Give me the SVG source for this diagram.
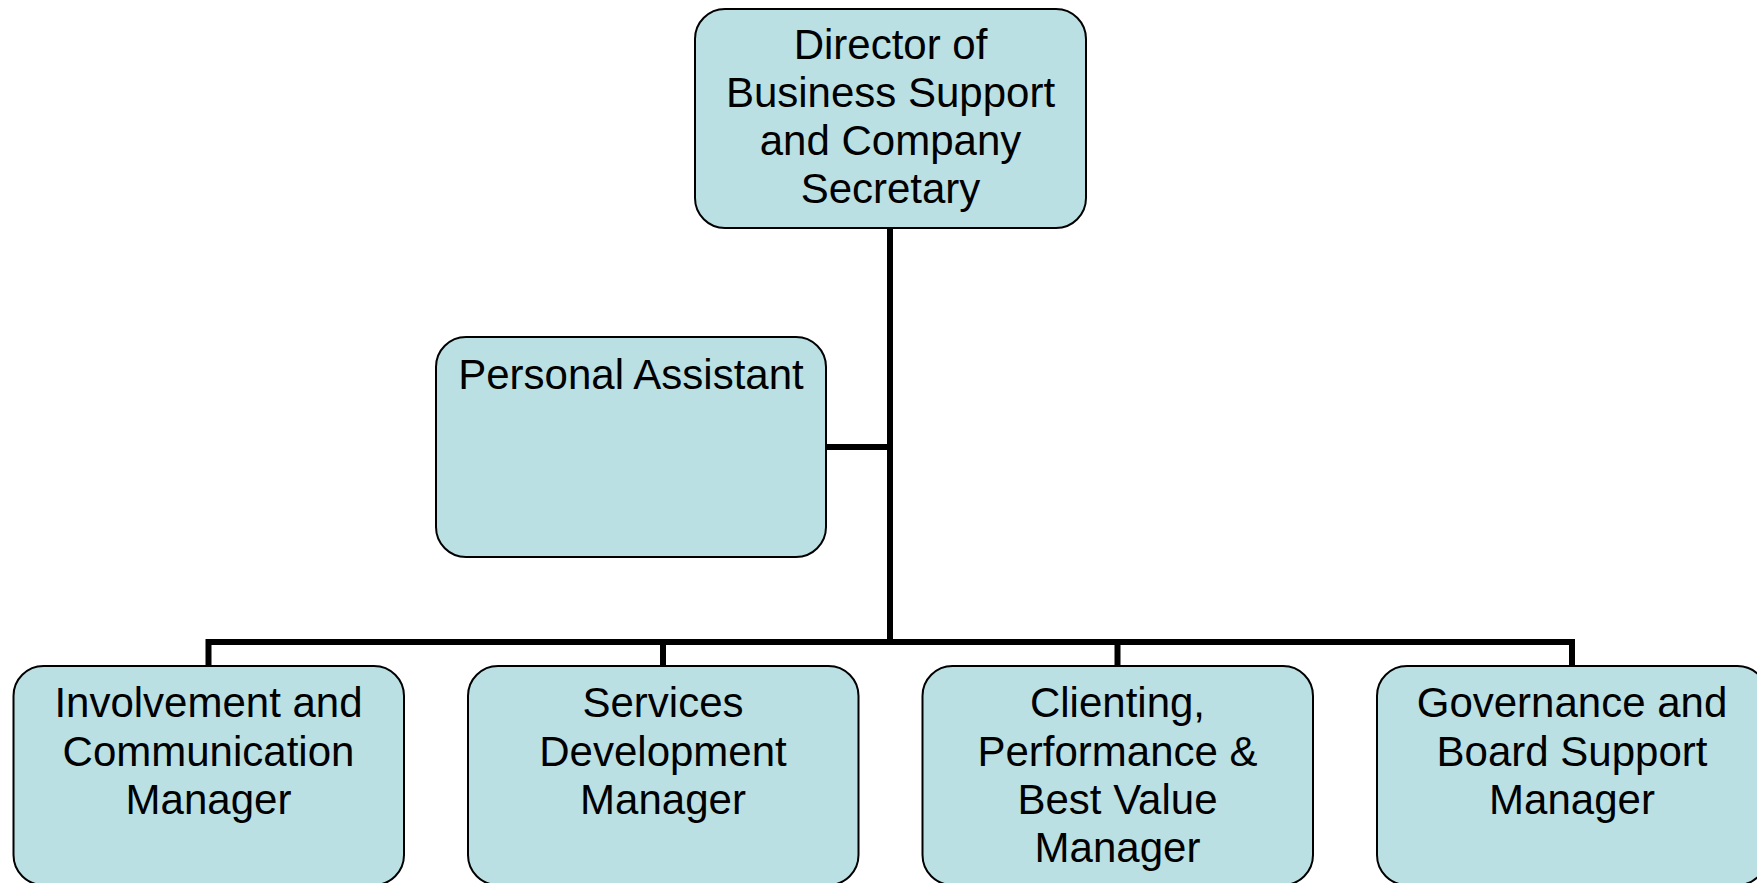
<svg xmlns="http://www.w3.org/2000/svg" width="1757" height="883" viewBox="0 0 1757 883">
  <style>
    .box { fill: #BAE0E3; stroke: #000; stroke-width: 2; }
    .lbl { font-family: "Liberation Sans", Arial, sans-serif; font-size: 42px; fill: #000; text-anchor: middle; }
    .wire { fill: none; stroke: #000; stroke-width: 6; stroke-linecap: butt; stroke-linejoin: miter; }
  </style>
  <rect width="1757" height="883" fill="#fff"/>

  <!-- reporting lines -->
  <g id="connectors">
    <path class="wire" d="M890,228 V645"/>
    <path class="wire" d="M826,447 H893"/>
    <path class="wire" d="M208.5,666 V642 H1572 V666"/>
    <path class="wire" d="M663,642 V666"/>
    <path class="wire" d="M1117.5,642 V666"/>
  </g>

  <g id="director">
    <rect class="box" x="695" y="9" width="391" height="219" rx="30" ry="30"/>
    <text class="lbl" x="890.5" y="59">Director of</text>
    <text class="lbl" x="890.5" y="107">Business Support</text>
    <text class="lbl" x="890.5" y="155">and Company</text>
    <text class="lbl" x="890.5" y="203">Secretary</text>
  </g>

  <g id="personal-assistant">
    <rect class="box" x="436" y="337" width="390" height="220" rx="30" ry="30"/>
    <text class="lbl" x="631" y="389">Personal Assistant</text>
  </g>

  <g id="involvement-communication">
    <rect class="box" x="13.5" y="666" width="390.5" height="219" rx="30" ry="30"/>
    <text class="lbl" x="208.5" y="717">Involvement and</text>
    <text class="lbl" x="208.5" y="766">Communication</text>
    <text class="lbl" x="208.5" y="814">Manager</text>
  </g>

  <g id="services-development">
    <rect class="box" x="468" y="666" width="390.5" height="219" rx="30" ry="30"/>
    <text class="lbl" x="663" y="717">Services</text>
    <text class="lbl" x="663" y="766">Development</text>
    <text class="lbl" x="663" y="814">Manager</text>
  </g>

  <g id="clienting-performance">
    <rect class="box" x="922.5" y="666" width="390.5" height="219" rx="30" ry="30"/>
    <text class="lbl" x="1117.5" y="717">Clienting,</text>
    <text class="lbl" x="1117.5" y="766">Performance &amp;</text>
    <text class="lbl" x="1117.5" y="814">Best Value</text>
    <text class="lbl" x="1117.5" y="862">Manager</text>
  </g>

  <g id="governance-board">
    <rect class="box" x="1377" y="666" width="390.5" height="219" rx="30" ry="30"/>
    <text class="lbl" x="1572" y="717">Governance and</text>
    <text class="lbl" x="1572" y="766">Board Support</text>
    <text class="lbl" x="1572" y="814">Manager</text>
  </g>
</svg>
